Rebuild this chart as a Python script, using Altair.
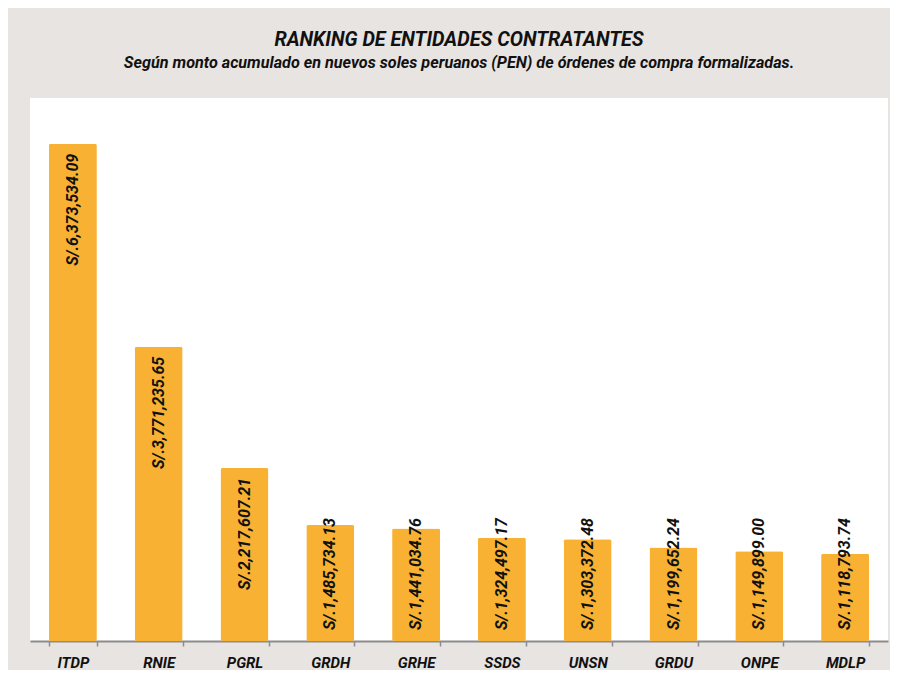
import altair as alt
import pandas as pd

entidades = ["ITDP", "RNIE", "PGRL", "GRDH", "GRHE", "SSDS", "UNSN", "GRDU", "ONPE", "MDLP"]
montos = [6373534.09, 3771235.65, 2217607.21, 1485734.13, 1441034.76,
          1324497.17, 1303372.48, 1199652.24, 1149899.00, 1118793.74]
etiquetas = ["S/.6,373,534.09", "S/.3,771,235.65", "S/.2,217,607.21", "S/.1,485,734.13",
             "S/.1,441,034.76", "S/.1,324,497.17", "S/.1,303,372.48", "S/.1,199,652.24",
             "S/.1,149,899.00", "S/.1,118,793.74"]

df = pd.DataFrame({"entidad": entidades, "monto": montos, "etiqueta": etiquetas})

FONT = "Roboto"
YMAX = 6960000
H = 543
UNIT = YMAX / H  # data units per pixel

x = alt.X("entidad:N", sort=entidades, title=None,
          scale=alt.Scale(paddingInner=0.44, paddingOuter=0.22),
          axis=alt.Axis(labelAngle=0, labelFont=FONT, labelFontSize=15,
                        labelFontWeight="bold", labelFontStyle="italic",
                        labelColor="#111111", labelPadding=9,
                        domainColor="#8c8c8c", domainWidth=2,
                        tickColor="#8c8c8c", tickSize=5, tickWidth=1.5,
                        tickBand="extent"))
y = alt.Y("monto:Q", scale=alt.Scale(domain=[0, YMAX], nice=False), axis=None)

bars = alt.Chart(df).mark_bar(color="#F8B133", size=48, cornerRadius=2).encode(x=x, y=y)

labels = alt.Chart(df).transform_calculate(
    ly=f"max(datum.monto - {10 * UNIT}, {123 * UNIT})"
).mark_text(angle=270, align="right", baseline="middle", font=FONT, fontSize=16,
            fontWeight="bold", fontStyle="italic", color="#111111").encode(
    x=alt.X("entidad:N", sort=entidades),
    y=alt.Y("ly:Q", scale=alt.Scale(domain=[0, YMAX], nice=False)),
    text="etiqueta:N")

chart = alt.layer(bars, labels).properties(
    width=858, height=H,
    background="#E8E4E1",
    padding={"left": 22, "top": 22, "right": 2, "bottom": 0},
    title=alt.TitleParams(
        "RANKING DE ENTIDADES  CONTRATANTES",
        subtitle="Según monto acumulado en nuevos soles peruanos (PEN) de órdenes de compra formalizadas.",
        anchor="middle", font=FONT, fontSize=19.8, fontWeight="bold", fontStyle="italic",
        color="#111111", subtitleFont=FONT, subtitleFontSize=16.2, subtitleFontWeight="bold",
        subtitleFontStyle="italic", subtitleColor="#111111", subtitlePadding=5, offset=27),
).configure_view(fill="white", stroke=None)

chart.save("out.html", embed_options={"renderer": "svg", "actions": False})
